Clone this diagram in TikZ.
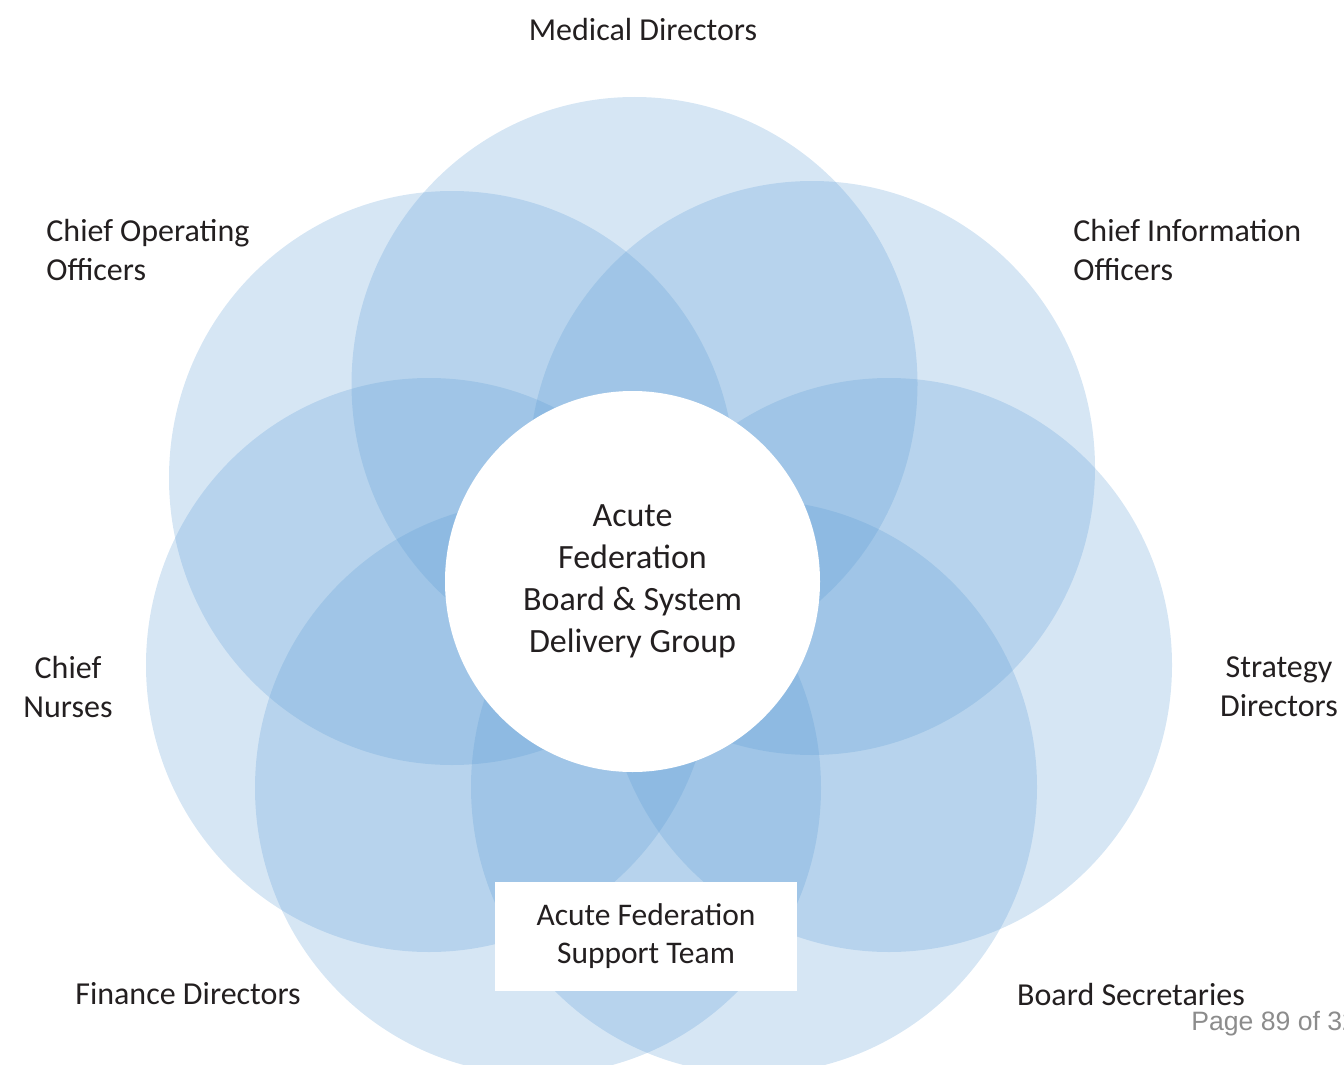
\documentclass[tikz,border=0pt]{standalone}
\usepackage{fontspec}
\setmainfont{Carlito}
\newfontfamily\pagefont{Liberation Sans}
\usetikzlibrary{shapes.geometric}
\definecolor{petalblue}{HTML}{5B9BD5}
\definecolor{ink}{HTML}{231F20}
\definecolor{pagegray}{HTML}{8C8C8C}

\begin{document}
\begin{tikzpicture}[x=0.5pt,y=-0.5pt]
  \tikzset{petal/.style = {ellipse,draw=none,fill=petalblue,fill opacity=0.25,
      minimum width=283pt,minimum height=287pt,inner sep=0pt,outer sep=0pt}}
  \tikzset{hub/.style = {ellipse,draw=none,fill=white,text=ink,align=center,
      minimum width=187.5pt,minimum height=190.5pt,inner sep=0pt,
      font=\fontsize{17}{21}\selectfont}}
  \tikzset{team/.style = {rectangle,draw=none,fill=white,text=ink,align=center,
      minimum width=151pt,minimum height=54.5pt,inner sep=0pt,
      font=\fontsize{15.75}{19}\selectfont}}
  \tikzset{role/.style = {text=ink,inner sep=0pt,align=center,
      font=\fontsize{16}{19.5}\selectfont}}

\useasboundingbox (0,0) rectangle (1344,1065);
\clip (0,0) rectangle (1344,1065);

% the seven overlapping groups
\node[petal] (med) at (634.5,384) {};
\node[petal] (cio) at (812,468) {};
\node[petal] (str) at (889,665) {};
\node[petal] (sec) at (754,787) {};
\node[petal] (fin) at (538,788) {};
\node[petal] (nur) at (429,665) {};
\node[petal] (coo) at (452,478) {};

% centre and support team
\node[hub] (board) at (632.5,581.5) {Acute\\Federation\\Board \& System\\Delivery Group};
\node[team] (team) at (646,936.5) {Acute Federation\\Support Team};

% group names
\node[role] (medlbl) at (643,30) {Medical Directors};
\node[role,anchor=west,align=left] (coolbl) at (46,250) {Chief Operating\\Officers};
\node[role,anchor=west,align=left] (ciolbl) at (1073,250) {Chief Information\\Officers};
\node[role] (nurlbl) at (68,687) {Chief\\Nurses};
\node[role] (strlbl) at (1279,687) {Strategy\\Directors};
\node[role] (finlbl) at (188,994) {Finance Directors};
\node[role] (seclbl) at (1131,994) {Board Secretaries};

\node[anchor=west,inner sep=0pt,text=pagegray,font=\pagefont\fontsize{13.3}{16}\selectfont] (page) at (1191,1024) {Page 89 of 32};

\end{tikzpicture}
\end{document}
